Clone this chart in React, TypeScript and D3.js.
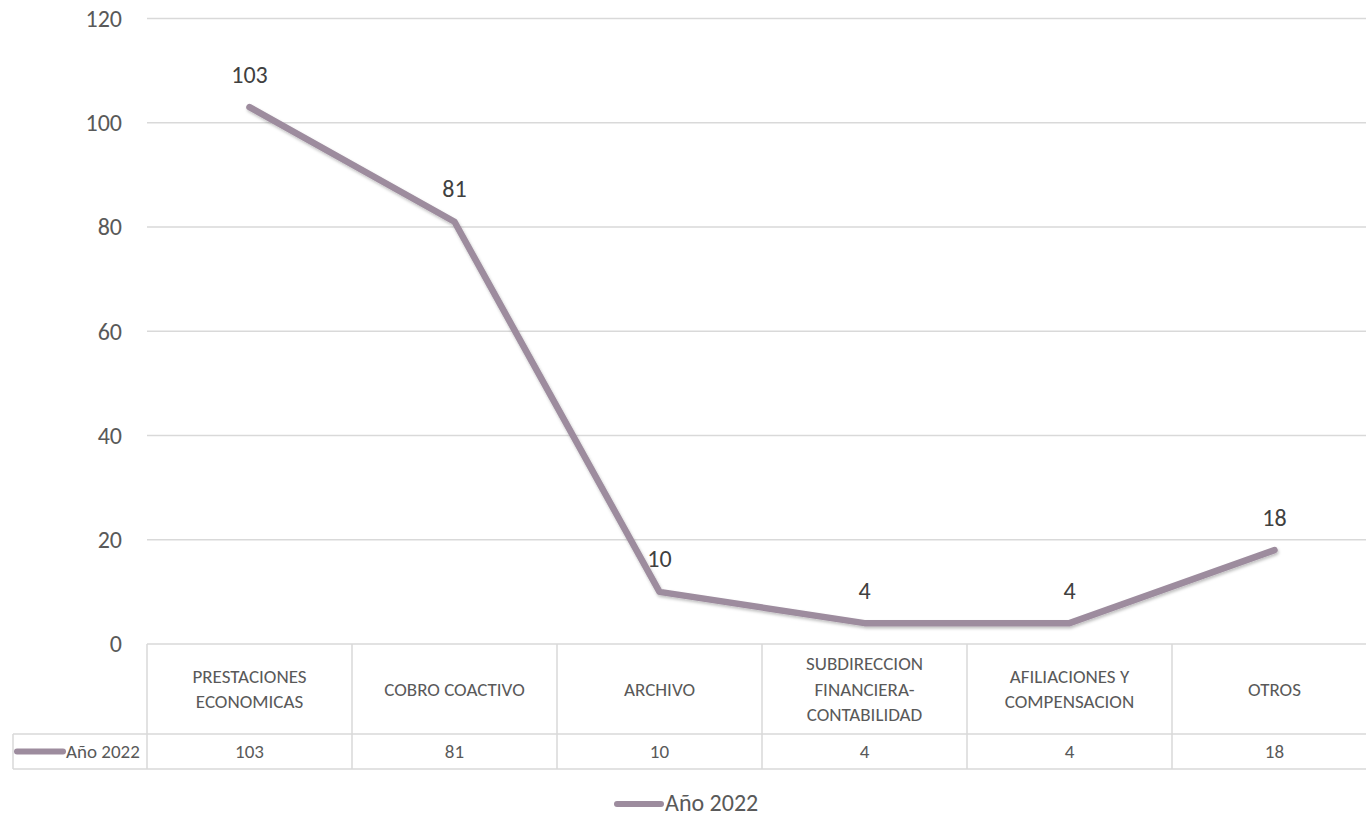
import React from "react";
import * as d3 from "d3";

const categories = [
  "PRESTACIONES ECONOMICAS",
  "COBRO COACTIVO",
  "ARCHIVO",
  "SUBDIRECCION FINANCIERA-CONTABILIDAD",
  "AFILIACIONES Y COMPENSACION",
  "OTROS",
];
const categoryLines = [
  ["PRESTACIONES", "ECONOMICAS"],
  ["COBRO COACTIVO"],
  ["ARCHIVO"],
  ["SUBDIRECCION", "FINANCIERA-", "CONTABILIDAD"],
  ["AFILIACIONES Y", "COMPENSACION"],
  ["OTROS"],
];
const seriesName = "Año 2022";
const values = [103, 81, 10, 4, 4, 18];
const yTicks = [0, 20, 40, 60, 80, 100, 120];

const W = 1366;
const H = 817;
const FONT = "Carlito, 'Liberation Sans Narrow', Lato, 'Open Sans', sans-serif";
const TEXT = "#595959";
const GRID = "#d9d9d9";
const LINE = "#9d8c9e";

export default function App() {
  const x = d3.scaleBand<string>().domain(categories).range([147, 1377]);
  const y = d3.scaleLinear().domain([0, 120]).range([644, 18.5]);
  const tableTop = y(0);
  const rowMid = 734;
  const tableBottom = 769;
  const cx = (c: string) => (x(c) as number) + x.bandwidth() / 2;
  const line = d3
    .line<number>()
    .x((_, i) => cx(categories[i]))
    .y((d) => y(d));

  return (
    <svg
      width={W}
      height={H}
      style={{ position: "absolute", left: 0, top: 0, background: "#fff" }}
      fontFamily={FONT}
    >
      <defs>
        <filter id="sh" x="-10%" y="-10%" width="120%" height="130%">
          <feDropShadow dx="1" dy="2" stdDeviation="1.5" floodColor="#000" floodOpacity="0.25" />
        </filter>
      </defs>
      {yTicks.map((t) => (
        <g key={t}>
          {t > 0 && (
            <line x1={147} x2={W} y1={y(t)} y2={y(t)} stroke={GRID} strokeWidth={1.5} />
          )}
          <text x={122} y={y(t)} dy="0.35em" textAnchor="end" fontSize={24} fill={TEXT}>
            {t}
          </text>
        </g>
      ))}
      {/* table */}
      <g stroke={GRID} strokeWidth={1.5} fill="none">
        <line x1={147} x2={W} y1={tableTop} y2={tableTop} />
        <line x1={13} x2={W} y1={rowMid} y2={rowMid} />
        <line x1={13} x2={W} y1={tableBottom} y2={tableBottom} />
        <line x1={13} x2={13} y1={rowMid} y2={tableBottom} />
        {categories.map((c) => (
          <line key={c} x1={x(c)} x2={x(c)} y1={tableTop} y2={tableBottom} />
        ))}
      </g>
      {categories.map((c, i) => {
        const lines = categoryLines[i];
        const lh = 25.5;
        const mid = (tableTop + rowMid) / 2;
        const start = mid - ((lines.length - 1) * lh) / 2;
        return (
          <g key={c}>
            {lines.map((l, j) => (
              <text
                key={j}
                x={cx(c)}
                y={start + j * lh}
                dy="0.35em"
                textAnchor="middle"
                fontSize={19}
                fill={TEXT}
              >
                {l}
              </text>
            ))}
            <text
              x={cx(c)}
              y={(rowMid + tableBottom) / 2}
              dy="0.35em"
              textAnchor="middle"
              fontSize={19}
              fill={TEXT}
            >
              {values[i]}
            </text>
          </g>
        );
      })}
      <line x1={17} x2={63} y1={751.5} y2={751.5} stroke={LINE} strokeWidth={6} strokeLinecap="round" />
      <text x={66} y={751.5} dy="0.35em" fontSize={19} fill={TEXT}>
        {seriesName}
      </text>
      {/* series */}
      <path
        d={line(values) as string}
        fill="none"
        stroke={LINE}
        strokeWidth={6.5}
        strokeLinecap="round"
        strokeLinejoin="round"
        filter="url(#sh)"
      />
      {values.map((v, i) => (
        <text
          key={i}
          x={cx(categories[i])}
          y={y(v) - 33}
          dy="0.35em"
          textAnchor="middle"
          fontSize={24}
          fill="#404040"
        >
          {v}
        </text>
      ))}
      {/* legend */}
      <line x1={617} x2={661} y1={804} y2={804} stroke={LINE} strokeWidth={6} strokeLinecap="round" />
      <text x={665} y={803} dy="0.35em" fontSize={24} fill={TEXT}>
        {seriesName}
      </text>
    </svg>
  );
}
